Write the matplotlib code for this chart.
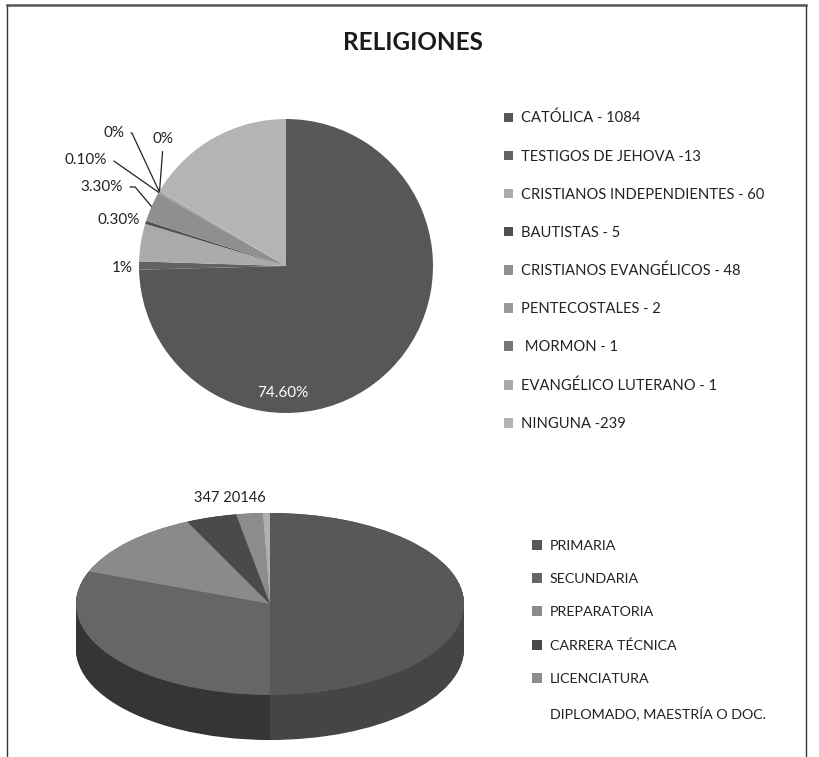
import numpy as np
import matplotlib.pyplot as plt

W, H = 820, 757

rel_labels = ['CATÓLICA - 1084', 'TESTIGOS DE JEHOVA -13', 'CRISTIANOS INDEPENDIENTES - 60',
              'BAUTISTAS - 5', 'CRISTIANOS EVANGÉLICOS - 48', 'PENTECOSTALES - 2',
              ' MORMON - 1', 'EVANGÉLICO LUTERANO - 1', 'NINGUNA -239']
rel_counts = [1084, 13, 60, 5, 48, 2, 1, 1, 239]
rel_pct = ['74.60%', '1%', '', '0.30%', '3.30%', '0.10%', '0%', '0%', '']
rel_colors = ['#575757', '#626262', '#ababab', '#4f4f4f', '#8f8f8f',
              '#999999', '#777777', '#aaaaaa', '#b4b4b4']

edu_labels = ['PRIMARIA', 'SECUNDARIA', 'PREPARATORIA', 'CARRERA TÉCNICA',
              'LICENCIATURA', 'DIPLOMADO, MAESTRÍA O DOC.']
edu_share = [50.0, 30.8, 12.2, 4.2, 2.2, 0.6]
edu_colors = ['#585858', '#666666', '#8a8a8a', '#4a4a4a', '#8c8c8c', '#b0b0b0']
edu_side = ['#454545', '#353535', '#5a5a5a', '#303030', '#5a5a5a', '#777777']
edu_text = '347 20146'

plt.rcParams['font.family'] = ['Lato', 'DejaVu Sans']


def px_axes(x0, y0, x1, y1, **kw):
    return fig.add_axes([x0 / W, 1 - y1 / H, (x1 - x0) / W, (y1 - y0) / H], **kw)


fig = plt.figure(figsize=(W / 100, H / 100), dpi=100)

# frame around the page
ax0 = px_axes(0, 0, W, H)
ax0.set_xlim(0, W)
ax0.set_ylim(H, 0)
ax0.axis('off')
ax0.plot([7, 7], [H, 5], color='#333333', lw=1.0)
ax0.plot([806, 806], [H, 5], color='#333333', lw=1.0)
ax0.plot([7, 806], [5, 5], color='#555555', lw=1.8)

fig.text(413 / W, 1 - 43 / H, 'RELIGIONES', ha='center', va='center',
         fontsize=17.5, fontweight='bold', color='#1a1a1a')

# --- pie 1 ---
cx, cy, r = 286, 266, 147
ax1 = px_axes(cx - r, cy - r, cx + r, cy + r)
wedges, _ = ax1.pie(rel_counts, colors=rel_colors, startangle=90, counterclock=False,
                    radius=1, wedgeprops=dict(linewidth=0))
ax1.set_xlim(-1, 1)
ax1.set_ylim(-1, 1)
ax1.set_aspect('auto')


def pd(px, py):
    return ((px - cx) / r, (cy - py) / r)


def edge(w, rr=1.0):
    a = np.deg2rad((w.theta1 + w.theta2) / 2)
    return (rr * np.cos(a), rr * np.sin(a))


ax1.text(*pd(283, 393), rel_pct[0], color='white', fontsize=11, ha='center', va='center')
ax1.text(*pd(133, 268), rel_pct[1], color='#222222', fontsize=11, ha='right', va='center')
ax1.text(*pd(140, 220), rel_pct[3], color='#222222', fontsize=11, ha='right', va='center')

lines = [(4, (123, 187), -50), (5, (107, 160), -35), (6, (124, 133), -65)]
for i, (tx, ty), ang in lines:
    ax1.annotate(rel_pct[i], xy=edge(wedges[i]), xytext=pd(tx, ty),
                 fontsize=11, color='#222222', ha='right', va='center',
                 arrowprops=dict(arrowstyle='-', color='#222222', lw=0.9,
                                 relpos=(1, 0.5), shrinkA=3, shrinkB=0,
                                 connectionstyle='angle,angleA=0,angleB=%d,rad=0' % ang))
ax1.annotate(rel_pct[7], xy=edge(wedges[7]), xytext=pd(163, 139),
             fontsize=11, color='#222222', ha='center', va='center',
             arrowprops=dict(arrowstyle='-', color='#222222', lw=0.9,
                             relpos=(0.5, 0), shrinkA=2, shrinkB=0))
ax1.axis('off')

fig.legend(wedges, rel_labels, loc='upper left', bbox_to_anchor=(504 / W, 1 - 111 / H),
           frameon=False, fontsize=10.6, labelspacing=1.635, handlelength=0.62,
           handleheight=0.62, handletextpad=0.55, borderpad=0, borderaxespad=0,
           labelcolor='#222222')

# --- pie 2 (3D look) ---
ex, ey, rx, ry, depth = 270, 604, 194, 91, 45
ax3 = px_axes(60, 480, 480, H)
for k in np.linspace(depth / ry, 0, 60):
    ax3.pie(edu_share, colors=edu_side, startangle=90, counterclock=False,
            radius=1, center=(0, -k), wedgeprops=dict(linewidth=0))
wedges2, _ = ax3.pie(edu_share, colors=edu_colors, startangle=90, counterclock=False,
                     radius=1, center=(0, 0), wedgeprops=dict(linewidth=0))
ax3.set_aspect('auto')
ax3.set_xlim((60 - ex) / rx, (480 - ex) / rx)
ax3.set_ylim((ey - H) / ry, (ey - 480) / ry)
ax3.axis('off')

fig.text(230 / W, 1 - 498 / H, edu_text, ha='center', va='center',
         fontsize=10.5, color='#222222')

leg2 = fig.legend(wedges2, edu_labels, loc='upper left', bbox_to_anchor=(532 / W, 1 - 540 / H),
                  frameon=False, fontsize=10.3, labelspacing=1.48, handlelength=0.68,
                  handleheight=0.68, handletextpad=0.55, borderpad=0, borderaxespad=0,
                  labelcolor='#222222')
leg2.legend_handles[-1].set_visible(False)

fig.savefig('out.png', dpi=100)
